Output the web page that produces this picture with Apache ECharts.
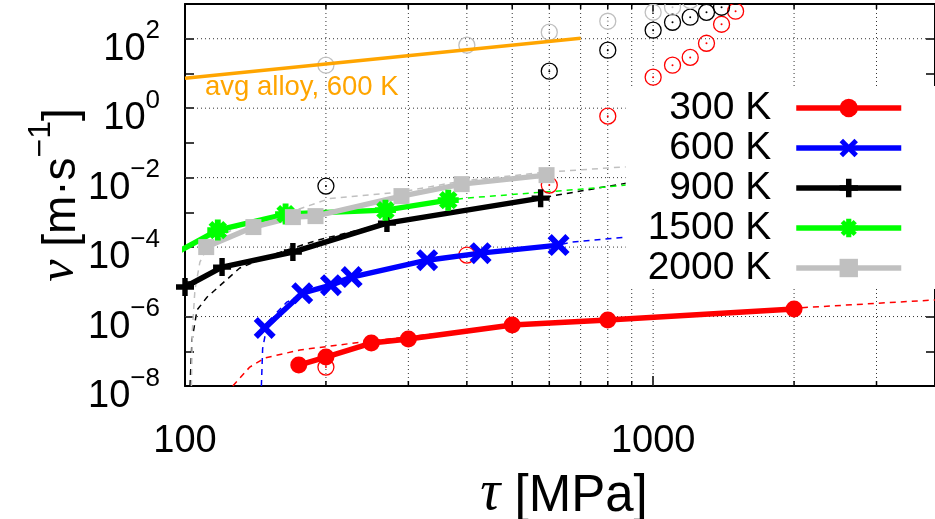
<!DOCTYPE html>
<html><head><meta charset="utf-8">
<script src="https://cdn.jsdelivr.net/npm/echarts@6/dist/echarts.min.js"></script>
<style>html,body{margin:0;padding:0;background:#fff}#c{width:935px;height:519px}</style>
</head><body><div id="c"></div>
<script>
// ---------- data ----------
const seriesNames = ['300 K','600 K','900 K','1500 K','2000 K'];
const tau300 = [175,200,250,300,500,800,2000];
const v300   = [4.0e-8,6.8e-8,1.73e-7,2.25e-7,5.7e-7,7.9e-7,1.64e-6];
const tau600 = [148,178,205,227,329,428,628];
const v600   = [4.7e-7,4.7e-6,8.0e-6,1.37e-5,4.2e-5,6.7e-5,1.14e-4];
const tau900 = [100,120,170,270,575];
const v900   = [7.1e-6,2.65e-5,7.2e-5,4.9e-4,2.57e-3];
const tau1500 = [97,117.5,164,268,365];
const v1500   = [7.5e-5,3.08e-4,8.9e-4,1.16e-3,2.25e-3];
const tau2000 = [111,140,170,190,290,390,592];
const v2000   = [1.0e-4,3.77e-4,7.3e-4,7.8e-4,2.94e-3,6.5e-3,1.18e-2];

// model curves (thin dashed)
const tauFit300 = [126.5,137.5,148,176,239,500,800,2000,4000];
const vFit300   = [1e-8,3.5e-8,6.4e-8,1.09e-7,1.85e-7,5.6e-7,8.3e-7,1.75e-6,3.0e-6];
const tauFit600 = [145.6,146.5,149,157,165,180,205,227,329,428,628,670,876,1200];
const vFit600   = [1e-8,1.2e-7,4e-7,1.3e-6,2.6e-6,4.8e-6,8e-6,1.37e-5,4.2e-5,6.7e-5,1.14e-4,1.39e-4,1.94e-4,2.6e-4];
const tauFit900 = [102.5,103.5,106.1,111.4,130.9,155.4,191.7,270,575,876,1200];
const vFit900   = [1e-8,2.1e-7,1.54e-6,3.6e-6,2.5e-5,6.3e-5,1.58e-4,4.9e-4,2.6e-3,6.9e-3,1.1e-2];
const tauFit1500 = [117.5,164,268,365,398,703,876,1200];
const vFit1500   = [3.08e-4,8.9e-4,1.16e-3,2.25e-3,2.57e-3,4.67e-3,6.1e-3,8e-3];
const tauFit2000 = [103.2,103.7,105.0,107.6,113.0,130.9,167.2,203.6,290.7,390.3,591,851,1200];
const vFit2000   = [1e-8,4.1e-7,5.8e-6,3.7e-5,1.4e-4,4.1e-4,1.0e-3,2.5e-3,3.9e-3,8.0e-3,1.44e-2,2.0e-2,2.6e-2];

// hollow-circle data points
const tauC300 = [200,400,600,800,1000,1100,1200,1300,1400,1500];
const vC300   = [3.5e-8,5.9e-5,6.1e-3,0.59,7.8,17.3,29,74,261,620];
const tauC900 = [200,600,800,1000,1100,1200,1300,1400];
const vC900   = [5.7e-3,11.6,46.7,176,298,417,575,806];
const tauC2000 = [200,400,600,800,1000,1100,1200];
const vC2000   = [17.3,65,154,319,579,806,1250];

// average alloy line
const tauAvg = [100,700];
const vAvg   = [7.3,103];
const avgLabel = 'avg alloy, 600 K';

// axes
const X_MIN = 100, X_MAX = 4000, Y_MIN = 1e-8, Y_MAX = 1e3;
const xTickLabels = [100, 1000];
const yLabelExponents = [-8,-6,-4,-2,0,2];
const xGridValues = [200,300,400,500,600,700,800,900,1000,2000,3000];
const yGridValues = [1e-6,1e-4,1e-2,1,100];
const xTitle = ' [MPa]', xSym = 'τ';
const ySym = 'ν', yTitle = ' [m·s', yTitleSup = '−1', yTitleEnd = ']';

// ---------- chart ----------
const SANS = 'Liberation Sans', SERIF = 'Liberation Serif';
const pairs = (xs, ys) => xs.map((x, i) => [x, ys[i]]);
const colors = {r:'#ff0000', b:'#0000ff', k:'#000000', g:'#00ff00', s:'#c0c0c0', o:'#ffa500'};

const PLUS = 'path://M35,0L65,0L65,35L100,35L100,65L65,65L65,100L35,100L35,65L0,65L0,35L35,35Z';
const CROSS = 'path://M0,19L19,0L50,31L81,0L100,19L69,50L100,81L81,100L50,69L19,100L0,81L31,50Z';
const STAR = 'path://M36,0L64,0L64,36L100,36L100,64L64,64L64,100L36,100L36,64L0,64L0,36L36,36Z' +
             'M6,24L24,6L50,32L76,6L94,24L68,50L94,76L76,94L50,68L24,94L6,76L32,50Z';

function solid(name, xs, ys, color, symbol, size) {
  return {type:'line', name, data:pairs(xs, ys), symbol, symbolSize:size, showAllSymbol:true,
    lineStyle:{width:5.5, color}, itemStyle:{color}, z:6, clip:true};
}
function dashed(name, xs, ys, color) {
  return {type:'line', name, data:pairs(xs, ys), symbol:'none', silent:true,
    lineStyle:{width:1.5, color, type:[6,5]}, z:3, clip:true};
}
function circles(name, xs, ys, color) {
  return {type:'custom', name, data:pairs(xs, ys), clip:true, silent:true, z:4,
    renderItem(params, api) {
      const p = api.coord([api.value(0), api.value(1)]);
      return {type:'group', children:[
        {type:'circle', shape:{cx:p[0], cy:p[1], r:8}, style:{fill:'none', stroke:color, lineWidth:1.3}},
        {type:'circle', shape:{cx:p[0], cy:p[1], r:1}, style:{fill:color}}
      ]};
    }};
}

const option = {
  animation:false,
  backgroundColor:'#fff',
  grid:{left:185, top:4, right:-3, bottom:133, show:false},
  legend:{
    data:seriesNames, orient:'vertical', right:0, top:86, align:'right',
    padding:[2,31,1,22], itemGap:0, itemWidth:105, itemHeight:23,
    backgroundColor:'#fff', selectedMode:false, z:10,
    lineStyle:{width:5.5},
    textStyle:{fontFamily:SANS, fontSize:39, color:'#000', lineHeight:40, padding:[0,20,0,0]}
  },
  xAxis:[{
    type:'log', logBase:10, min:X_MIN, max:X_MAX, position:'bottom',
    axisLine:{show:true, lineStyle:{color:'#000', width:2}},
    axisTick:{show:true, inside:true, length:10, lineStyle:{color:'#000', width:1.5}},
    axisLabel:{show:true, margin:37, fontFamily:SANS, fontSize:38, color:'#000', showMaxLabel:false,
      formatter:v => { const r = Math.round(v); return xTickLabels.includes(r) ? String(r) : ''; }},
    splitLine:{show:false}
  },{
    type:'log', logBase:10, min:X_MIN, max:X_MAX, position:'top',
    axisLine:{show:true, lineStyle:{color:'#000', width:2}},
    axisTick:{show:true, inside:true, length:10, lineStyle:{color:'#000', width:1.5}},
    axisLabel:{show:false}, splitLine:{show:false}
  }],
  yAxis:[{
    type:'log', logBase:10, min:Y_MIN, max:Y_MAX, splitNumber:11, interval:1, position:'left',
    axisLine:{show:true, lineStyle:{color:'#000', width:2}},
    axisTick:{show:true, inside:true, length:9, lineStyle:{color:'#000', width:1.5}},
    axisLabel:{show:true, margin:25, interval:0, padding:[9,0,0,0],
      formatter:v => {
        const e = Math.round(Math.log10(v));
        if (!yLabelExponents.includes(e)) return '';
        return '{b|10}{s|' + (e < 0 ? '−' + (-e) : String(e)) + '}';
      },
      rich:{
        b:{fontFamily:SANS, fontSize:38, color:'#000', lineHeight:50, verticalAlign:'bottom'},
        s:{fontFamily:SANS, fontSize:26, color:'#000', lineHeight:26, verticalAlign:'top'}
      }},
    splitLine:{show:false}
  },{
    type:'log', logBase:10, min:Y_MIN, max:Y_MAX, splitNumber:11, interval:1, position:'right',
    axisLine:{show:true, lineStyle:{color:'#000', width:2}},
    axisTick:{show:true, inside:true, length:9, lineStyle:{color:'#000', width:1.5}},
    axisLabel:{show:false}, splitLine:{show:false}
  }],
  graphic:[
    {type:'text', left:205, top:73, z:20, silent:true,
     style:{text:avgLabel, fontFamily:SANS, fontSize:27.5, fill:colors.o}},
    {type:'text', x:564, y:492, z:20, silent:true,
     style:{text:'{t|' + xSym + '}{n|' + xTitle + '}', align:'center', verticalAlign:'middle',
       rich:{t:{fontFamily:SERIF, fontStyle:'italic', fontSize:56, fill:'#000', lineHeight:60, verticalAlign:'bottom'},
             n:{fontFamily:SANS, fontSize:51, fill:'#000', lineHeight:60, verticalAlign:'bottom'}}}},
    {type:'text', x:55, y:195, rotation:Math.PI/2, z:20, silent:true,
     style:{text:'{t|' + ySym + '}{n|' + yTitle + '}{s|' + yTitleSup + '}{n|' + yTitleEnd + '}',
       align:'center', verticalAlign:'middle',
       rich:{t:{fontFamily:SERIF, fontStyle:'italic', fontSize:50, fill:'#000', lineHeight:60, verticalAlign:'bottom'},
             n:{fontFamily:SANS, fontSize:46, fill:'#000', lineHeight:60, verticalAlign:'bottom'},
             s:{fontFamily:SANS, fontSize:32, fill:'#000', lineHeight:32, verticalAlign:'top'}}}}
  ],
  series:[
    {type:'custom', name:'xgrid', silent:true, z:1, clip:false,
     data:xGridValues.map(v => [v, Y_MIN]),
     renderItem(params, api) {
       const x = api.value(0);
       const b = api.coord([x, Y_MIN]), t = api.coord([x, Y_MAX]);
       const ch = [{type:'line', shape:{x1:b[0], y1:b[1], x2:t[0], y2:t[1]},
                    style:{stroke:'#333', lineWidth:1, lineDash:[1,3]}}];
       if (!xTickLabels.includes(x)) {
         ch.push({type:'line', shape:{x1:b[0], y1:b[1], x2:b[0], y2:b[1]-5}, style:{stroke:'#000', lineWidth:1.5}});
         ch.push({type:'line', shape:{x1:t[0], y1:t[1], x2:t[0], y2:t[1]+5}, style:{stroke:'#000', lineWidth:1.5}});
       }
       return {type:'group', children:ch};
     }},
    {type:'custom', name:'ygrid', silent:true, z:1, clip:false,
     data:yGridValues.map(v => [X_MIN, v]),
     renderItem(params, api) {
       const y = api.value(1);
       const a = api.coord([X_MIN, y]), c = api.coord([X_MAX, y]);
       return {type:'line', shape:{x1:a[0], y1:a[1], x2:c[0], y2:c[1]},
               style:{stroke:'#333', lineWidth:1, lineDash:[1,3]}};
     }},
    dashed('fit300', tauFit300, vFit300, colors.r),
    dashed('fit600', tauFit600, vFit600, colors.b),
    dashed('fit900', tauFit900, vFit900, colors.k),
    dashed('fit1500', tauFit1500, vFit1500, colors.g),
    dashed('fit2000', tauFit2000, vFit2000, colors.s),
    circles('c300', tauC300, vC300, colors.r),
    circles('c900', tauC900, vC900, colors.k),
    circles('c2000', tauC2000, vC2000, colors.s),
    {type:'line', name:avgLabel, data:pairs(tauAvg, vAvg), symbol:'none', silent:true,
     lineStyle:{width:3.5, color:colors.o}, z:5, clip:true},
    solid('300 K', tau300, v300, colors.r, 'circle', 17),
    solid('600 K', tau600, v600, colors.b, CROSS, 22),
    solid('900 K', tau900, v900, colors.k, PLUS, 18),
    solid('1500 K', tau1500, v1500, colors.g, STAR, 21),
    solid('2000 K', tau2000, v2000, colors.s, 'rect', 16)
  ]
};
const chart = echarts.init(document.getElementById('c'));
chart.setOption(option);
</script>
</body></html>
